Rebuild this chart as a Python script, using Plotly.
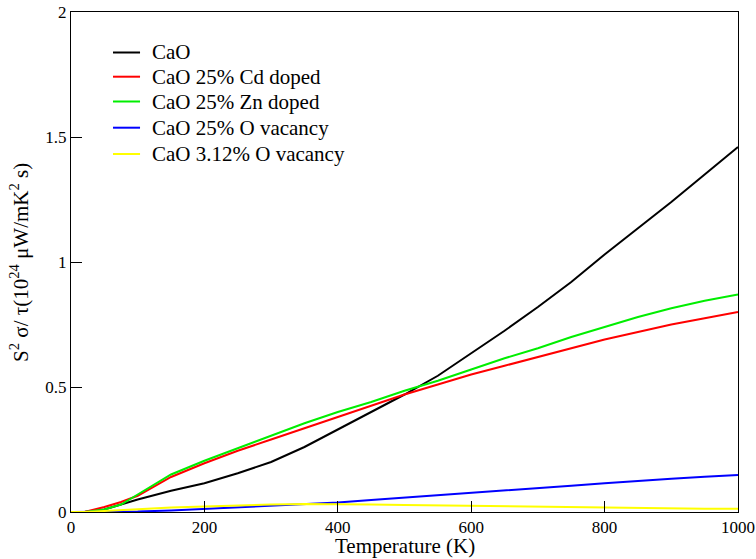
import plotly.graph_objects as go

temps = [0, 20, 50, 75, 100, 150, 200, 250, 300, 350, 400, 450, 500, 550, 600, 650, 700, 750, 800, 850, 900, 950, 1000]

cao = [0, 0, 0.01, 0.03, 0.05, 0.085, 0.115, 0.155, 0.20, 0.26, 0.33, 0.40, 0.47, 0.545, 0.635, 0.725, 0.82, 0.92, 1.03, 1.135, 1.24, 1.35, 1.46]
cd = [0, 0, 0.02, 0.04, 0.065, 0.14, 0.195, 0.245, 0.29, 0.335, 0.38, 0.425, 0.47, 0.51, 0.55, 0.585, 0.62, 0.655, 0.69, 0.72, 0.75, 0.775, 0.80]
zn = [0, 0, 0.01, 0.03, 0.07, 0.15, 0.205, 0.255, 0.305, 0.355, 0.40, 0.44, 0.485, 0.525, 0.57, 0.615, 0.655, 0.70, 0.74, 0.78, 0.815, 0.845, 0.87]
ovac25 = [0, 0, 0, 0, 0.002, 0.006, 0.012, 0.02, 0.027, 0.032, 0.038, 0.048, 0.057, 0.066, 0.075, 0.085, 0.095, 0.105, 0.115, 0.125, 0.133, 0.141, 0.148]
ovac312 = [0, 0, 0.004, 0.008, 0.012, 0.018, 0.022, 0.027, 0.03, 0.032, 0.032, 0.03, 0.028, 0.026, 0.025, 0.023, 0.022, 0.02, 0.017, 0.015, 0.014, 0.013, 0.013]

names = ["CaO", "CaO 25% Cd doped", "CaO 25% Zn doped", "CaO 25% O vacancy", "CaO 3.12% O vacancy"]
series = [cao, cd, zn, ovac25, ovac312]
colors = ["#000000", "#ff0000", "#00ee00", "#0000ff", "#ffff00"]

FONT = "Liberation Serif, Times New Roman, serif"

fig = go.Figure()
for n, s, c in zip(names, series, colors):
    fig.add_trace(go.Scatter(x=temps, y=s, mode="lines", name=n, line=dict(color=c, width=2),
                             showlegend=False))

# manual legend (paper coordinates)
legend_y = [0.919, 0.8706, 0.821, 0.7686, 0.716]
shapes = []
annotations = []
for n, c, ly in zip(names, colors, legend_y):
    shapes.append(dict(type="line", xref="paper", yref="paper", x0=0.063, x1=0.1035, y0=ly, y1=ly,
                       line=dict(color=c, width=2)))
    annotations.append(dict(text=n, xref="paper", yref="paper", x=0.118, y=ly, xanchor="left",
                            yanchor="middle", showarrow=False, font=dict(size=21, family=FONT, color="black")))

annotations.append(dict(text="Temperature (K)", xref="paper", yref="paper", x=0.5, y=-0.068,
                        xanchor="center", yanchor="middle", showarrow=False,
                        font=dict(size=21, family=FONT, color="black")))
annotations.append(dict(text="S<sup>2</sup> σ/ τ(10<sup>24</sup> μW/mK<sup>2</sup> s)", xref="paper", yref="paper",
                        x=-0.078, y=0.5, xanchor="center", yanchor="middle", textangle=-90, showarrow=False,
                        font=dict(size=21, family=FONT, color="black")))

fig.update_layout(
    width=756, height=559,
    margin=dict(l=71, r=18, t=12, b=47),
    paper_bgcolor="white", plot_bgcolor="white",
    font=dict(family=FONT, size=17, color="black"),
    showlegend=False,
    shapes=shapes,
    annotations=annotations,
    xaxis=dict(range=[0, 1000], tickvals=[0, 200, 400, 600, 800, 1000], automargin=False,
               showgrid=False, zeroline=False, showline=True, linecolor="black", linewidth=1,
               mirror=True, ticks="inside", ticklen=11, tickcolor="black",
               tickfont=dict(size=17, family=FONT, color="black")),
    yaxis=dict(range=[0, 2], tickvals=[0, 0.5, 1, 1.5, 2], ticktext=["0", "0.5", "1", "1.5", "2"],
               automargin=False,
               showgrid=False, zeroline=False, showline=True, linecolor="black", linewidth=1,
               mirror=True, ticks="inside", ticklen=11, tickcolor="black",
               tickfont=dict(size=17, family=FONT, color="black")),
)

fig.write_html("out.html")
